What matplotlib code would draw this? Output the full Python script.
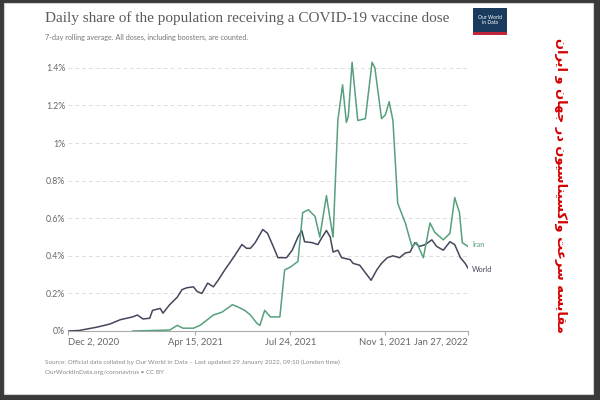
import matplotlib
matplotlib.use('Agg')
import matplotlib.pyplot as plt
from matplotlib.patches import Rectangle
import pandas as pd

# data (percent of population per day)
world_dates = ['2020-12-02', '2020-12-14', '2021-01-01', '2021-01-15', '2021-01-26', '2021-02-08',
               '2021-02-13', '2021-02-19', '2021-02-26', '2021-03-01', '2021-03-09', '2021-03-12',
               '2021-03-19', '2021-03-27', '2021-04-01', '2021-04-06', '2021-04-13', '2021-04-17',
               '2021-04-22', '2021-04-28', '2021-05-04', '2021-05-09', '2021-05-16', '2021-05-25',
               '2021-06-03', '2021-06-08', '2021-06-12', '2021-06-17', '2021-06-25', '2021-06-30',
               '2021-07-06', '2021-07-11', '2021-07-20', '2021-07-26', '2021-08-01', '2021-08-05',
               '2021-08-08', '2021-08-16', '2021-08-22', '2021-08-26', '2021-08-31', '2021-09-04',
               '2021-09-07', '2021-09-12', '2021-09-16', '2021-09-25', '2021-09-28', '2021-10-05',
               '2021-10-11', '2021-10-17', '2021-10-23', '2021-10-28', '2021-11-03', '2021-11-09',
               '2021-11-16', '2021-11-22', '2021-11-27', '2021-12-02', '2021-12-07', '2021-12-13',
               '2021-12-20', '2021-12-25', '2022-01-01', '2022-01-08', '2022-01-13', '2022-01-19',
               '2022-01-24', '2022-01-27']
world_values = [0.0, 0.003, 0.02, 0.037, 0.06, 0.075,
                0.085, 0.064, 0.068, 0.11, 0.12, 0.095,
                0.14, 0.18, 0.22, 0.23, 0.235, 0.21,
                0.2, 0.255, 0.235, 0.27, 0.325, 0.39,
                0.46, 0.44, 0.44, 0.47, 0.54, 0.52,
                0.45, 0.39, 0.39, 0.43, 0.50, 0.535,
                0.475, 0.47, 0.46, 0.495, 0.535, 0.50,
                0.42, 0.43, 0.39, 0.38, 0.36, 0.35,
                0.31, 0.27, 0.325, 0.36, 0.39, 0.40,
                0.39, 0.415, 0.42, 0.47, 0.45, 0.46,
                0.485, 0.45, 0.43, 0.475, 0.46, 0.39,
                0.36, 0.335]

iran_dates = ['2021-02-08', '2021-03-19', '2021-03-27', '2021-04-02', '2021-04-13', '2021-04-20',
              '2021-05-04', '2021-05-13', '2021-05-24', '2021-05-29', '2021-06-06', '2021-06-12',
              '2021-06-19', '2021-06-22', '2021-06-27', '2021-07-03', '2021-07-13', '2021-07-18',
              '2021-07-24', '2021-08-01', '2021-08-06', '2021-08-12', '2021-08-19', '2021-08-24',
              '2021-08-31', '2021-09-04', '2021-09-07', '2021-09-12', '2021-09-17', '2021-09-21',
              '2021-09-23', '2021-09-27', '2021-10-03', '2021-10-11', '2021-10-18', '2021-10-21',
              '2021-10-28', '2021-11-01', '2021-11-05', '2021-11-09', '2021-11-14', '2021-11-22',
              '2021-11-29', '2021-12-04', '2021-12-11', '2021-12-18', '2021-12-23', '2022-01-01',
              '2022-01-08', '2022-01-13', '2022-01-18', '2022-01-21', '2022-01-27']
iran_values = [0.0, 0.005, 0.03, 0.015, 0.015, 0.03,
               0.085, 0.10, 0.14, 0.13, 0.11, 0.085,
               0.04, 0.03, 0.11, 0.075, 0.075, 0.325,
               0.34, 0.37, 0.63, 0.645, 0.61, 0.50,
               0.72, 0.59, 0.50, 1.12, 1.31, 1.11,
               1.14, 1.43, 1.12, 1.13, 1.43, 1.40,
               1.13, 1.15, 1.22, 1.12, 0.68, 0.575,
               0.45, 0.47, 0.39, 0.575, 0.525, 0.485,
               0.52, 0.71, 0.63, 0.47, 0.45]

y_ticks = [0, 0.2, 0.4, 0.6, 0.8, 1.0, 1.2, 1.4]
y_labels = ['0%', '0.2%', '0.4%', '0.6%', '0.8%', '1%', '1.2%', '1.4%']
x_ticks = ['2020-12-02', '2021-04-15', '2021-07-24', '2021-11-01', '2022-01-27']
x_labels = ['Dec 2, 2020', 'Apr 15, 2021', 'Jul 24, 2021', 'Nov 1, 2021', 'Jan 27, 2022']

side_title = 'مقایسه سرعت واکسیناسیون در جهان و ایران'

# matplotlib has no arabic shaping, so pick presentation forms by hand
# (isolated, final, initial, medial)
forms = {
    'ا': (0xFE8D, 0xFE8E, None, None),
    'ت': (0xFE95, 0xFE96, 0xFE97, 0xFE98),
    'ج': (0xFE9D, 0xFE9E, 0xFE9F, 0xFEA0),
    'د': (0xFEA9, 0xFEAA, None, None),
    'ر': (0xFEAD, 0xFEAE, None, None),
    'س': (0xFEB1, 0xFEB2, 0xFEB3, 0xFEB4),
    'ع': (0xFEC9, 0xFECA, 0xFECB, 0xFECC),
    'ق': (0xFED5, 0xFED6, 0xFED7, 0xFED8),
    'ک': (0xFED9, 0xFEDA, 0xFEDB, 0xFEDC),
    'م': (0xFEE1, 0xFEE2, 0xFEE3, 0xFEE4),
    'ن': (0xFEE5, 0xFEE6, 0xFEE7, 0xFEE8),
    'ه': (0xFEE9, 0xFEEA, 0xFEEB, 0xFEEC),
    'و': (0xFEED, 0xFEEE, None, None),
    'ی': (0xFEEF, 0xFEF0, 0xFEF3, 0xFEF4),
}


def shape(text):
    words = []
    for word in text.split(' '):
        out = ''
        for i, ch in enumerate(word):
            f = forms[ch]
            prev_joins = i > 0 and forms[word[i - 1]][2] is not None
            next_joins = i < len(word) - 1 and f[2] is not None
            if prev_joins and next_joins:
                out += chr(f[3])
            elif prev_joins:
                out += chr(f[1])
            elif next_joins:
                out += chr(f[2])
            else:
                out += chr(f[0])
        words.append(out)
    return ' '.join(words)[::-1]


world = pd.Series(world_values, index=pd.to_datetime(world_dates))
iran = pd.Series(iran_values, index=pd.to_datetime(iran_dates))

grey_txt = '#5b5b5b'
world_col = '#44475c'
iran_col = '#56a07c'

fig = plt.figure(figsize=(6, 4), dpi=100, facecolor='#3a3a3a')
fig.patches.append(Rectangle((4 / 600, 6 / 400), 589 / 600, 391 / 400, transform=fig.transFigure,
                             facecolor='white', edgecolor='#d0d0d0', lw=0.8, zorder=-5))

ax = fig.add_axes([68 / 600, 1 - 331 / 400, 400 / 600, 271 / 400])
ax.set_facecolor('none')
ax.plot(world.index, world.values, color=world_col, lw=1.1)
ax.plot(iran.index, iran.values, color=iran_col, lw=1.1)

ax.set_xlim(pd.Timestamp(x_ticks[0]), pd.Timestamp(x_ticks[-1]))
ax.set_ylim(0, 1.442)
ax.set_yticks(y_ticks)
ax.set_yticklabels(y_labels)
ax.set_xticks(pd.to_datetime(x_ticks))
ax.set_xticklabels(x_labels)
xl = ax.get_xticklabels()
xl[0].set_ha('left')
xl[-1].set_ha('right')

for s in ['top', 'right', 'left']:
    ax.spines[s].set_visible(False)
ax.spines['bottom'].set_color('#aaaaaa')
ax.spines['bottom'].set_linewidth(0.8)
ax.grid(axis='y', color='#dddddd', ls=(0, (4, 3)), lw=0.7)
ax.tick_params(axis='y', length=0, labelsize=6.3, labelcolor='#666666', pad=2)
ax.tick_params(axis='x', length=3, color='#aaaaaa', labelsize=6.8, labelcolor='#666666', pad=2)
for lab in ax.get_yticklabels():
    lab.set_fontfamily('Lato')
for lab in ax.get_xticklabels():
    lab.set_fontfamily('Lato')

ax.text(1.01, iran.values[-1] + 0.01, 'Iran', transform=ax.get_yaxis_transform(), color=iran_col,
        fontsize=5.3, va='center', family='Lato')
ax.text(1.01, world.values[-1] - 0.01, 'World', transform=ax.get_yaxis_transform(), color=world_col,
        fontsize=5.3, va='center', family='Lato')

# titles and footer
fig.text(45 / 600, 1 - 22 / 400, 'Daily share of the population receiving a COVID-19 vaccine dose',
         fontsize=10.95, color=grey_txt, family='Liberation Serif', va='baseline')
fig.text(45 / 600, 1 - 40 / 400, '7-day rolling average. All doses, including boosters, are counted.',
         fontsize=5.2, color='#777777', family='Lato', va='baseline')
fig.text(45 / 600, 1 - 364 / 400,
         'Source: Official data collated by Our World in Data – Last updated 29 January 2022, 09:10 (London time)',
         fontsize=4.6, color='#888888', family='Lato', va='baseline')
fig.text(45 / 600, 1 - 374 / 400, 'OurWorldInData.org/coronavirus • CC BY',
         fontsize=4.6, color='#888888', family='Lato', va='baseline')

# OWID logo
fig.patches.append(Rectangle((473 / 600, 1 - 35 / 400), 34 / 600, 27 / 400, transform=fig.transFigure,
                             facecolor='#1a3a5e', edgecolor='none', zorder=2))
fig.patches.append(Rectangle((473 / 600, 1 - 35 / 400), 34 / 600, 3 / 400, transform=fig.transFigure,
                             facecolor='#c2243a', edgecolor='none', zorder=3))
fig.text(490 / 600, 1 - 20 / 400, 'Our World\nin Data', ha='center', va='center', color='white',
         fontsize=3.6, family='Lato', linespacing=1.0, zorder=4)

# persian side title
fig.text(561 / 600, 1 - 185 / 400, shape(side_title), rotation=270, ha='center', va='center',
         color='#d40000', fontsize=9.4, fontweight='bold', family=['DejaVu Sans'])

fig.savefig('out.png', dpi=100, facecolor=fig.get_facecolor())
